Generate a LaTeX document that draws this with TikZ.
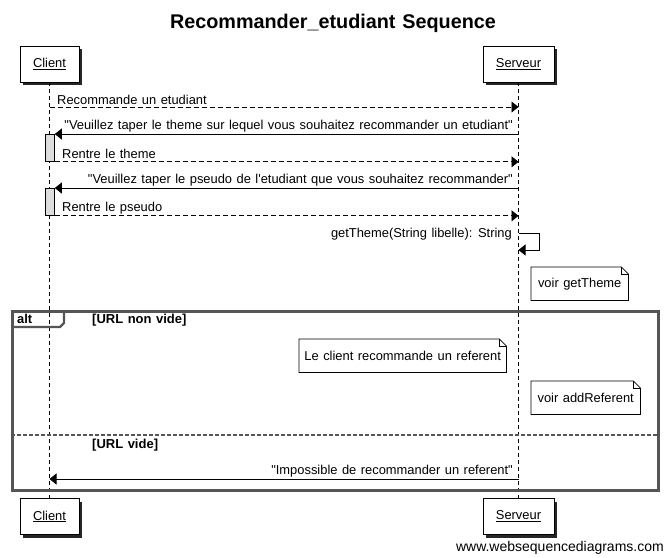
\documentclass[tikz,border=0pt]{standalone}
\usepackage{fontspec}
\setmainfont{Liberation Sans}[WordSpace=1.25]
\usetikzlibrary{arrows.meta,shadows}
\definecolor{framegray}{HTML}{555555}
\definecolor{actgray}{HTML}{DDDDDD}
\newcommand\notefold[1]{%
  \draw[noteline] (#1.north west) -- ([xshift=-7pt]#1.north east) -- ([yshift=-7pt]#1.north east) -- (#1.south east) -- (#1.south west) -- cycle;
  \draw[noteline] ([xshift=-7pt]#1.north east) |- ([yshift=-7pt]#1.north east);}
\newcommand\dq{\textquotedbl}
\begin{document}
\begin{tikzpicture}[x=1pt,y=-1pt,
  txt/.style={font=\fontsize{12.9}{15}\selectfont,inner sep=0pt},
  actor/.style={draw,fill=white,line width=0.8pt,minimum height=36pt,inner sep=0pt,
    font=\fontsize{12.9}{15}\selectfont,
    drop shadow={shadow xshift=3pt,shadow yshift=-3pt,fill=black!85,opacity=1}},
  lifeline/.style={line width=0.8pt,dash pattern=on 4pt off 3pt},
  tip/.style={-{Triangle[length=7pt,width=11pt]}},
  smsg/.style={tip,line width=0.8pt},
  dmsg/.style={tip,line width=0.8pt,dash pattern=on 5pt off 3pt},
  act/.style={draw,fill=actgray,line width=0.8pt,minimum width=9pt,minimum height=27pt,inner sep=0pt},
  note/.style={font=\fontsize{12.9}{15}\selectfont,inner sep=0pt,minimum height=33pt},
  noteline/.style={line width=0.8pt},
  frame/.style={draw=framegray,line width=2.7pt},
  guard/.style={font=\bfseries\fontsize{13}{15}\selectfont,inner sep=0pt,anchor=west}]
\useasboundingbox (0,0) rectangle (666,557);
\node[font=\bfseries\fontsize{19.8}{23}\selectfont] (title) at (333,23) {Recommander\_etudiant Sequence};
% actors
\node[actor,minimum width=59pt] (cltop) at (49.5,64) {\underline{Client}};
\node[actor,minimum width=71pt] (svtop) at (518.5,64) {\underline{Serveur}};
\node[actor,minimum width=59pt] (clbot) at (49.5,516.5) {\underline{Client}};
\node[actor,minimum width=71pt] (svbot) at (518.5,516.5) {\underline{Serveur}};
\draw[lifeline] (cltop.south) -- (clbot.north);
\draw[lifeline] (svtop.south) -- (svbot.north);
% alt frame
\node[frame,anchor=north west,minimum width=646pt,minimum height=179pt,inner sep=0pt] (altframe) at (11,310) {};
\node[font=\bfseries\fontsize{12.9}{15}\selectfont,inner sep=0pt,anchor=west] (altlbl) at (17,318.5) {alt};
\draw[framegray,line width=2.2pt] (altframe.north west |- 0,327) -- (60,327) -- (64,323) -- (64,310);
\draw[framegray,line width=2.2pt,dash pattern=on 4pt off 2pt] (altframe.west |- 0,435) -- (altframe.east |- 0,435);
\node[guard] (g1) at (92,320) {[URL non vide]};
\node[guard] (g2) at (92,445) {[URL vide]};
% activations
\node[act,anchor=north west] (act1) at (45,134) {};
\node[act,anchor=north west] (act2) at (45,188) {};
% messages
\draw[dmsg] (cltop.south |- 0,107) -- (svtop.south |- 0,107);
\node[txt,anchor=west] (l1) at (57,100) {Recommande un etudiant};
\draw[smsg] (svtop.south |- act1.north) -- (act1.north east);
\node[txt,anchor=east] (l2) at (513,126.5) {\dq Veuillez taper le theme sur lequel vous souhaitez recommander un etudiant\dq};
\draw[dmsg] (act1.south east) -- (svtop.south |- act1.south);
\node[txt,anchor=west] (l3) at (62,154) {Rentre le theme};
\draw[smsg] (svtop.south |- act2.north) -- (act2.north east);
\node[txt,anchor=east] (l4) at (513,180.5) {\dq Veuillez taper le pseudo de l\textquotesingle etudiant que vous souhaitez recommander\dq};
\draw[dmsg] (act2.south east) -- (svtop.south |- act2.south);
\node[txt,anchor=west] (l5) at (62,208) {Rentre le pseudo};
\coordinate (selfc) at (539,250);
\draw[smsg] (svtop.south |- 0,233) -| (selfc) -- (svtop.south |- selfc);
\node[txt,anchor=east] (l6) at (512,234) {getTheme(String libelle): String};
% notes
\node[note,anchor=north west,minimum width=97pt] (n1) at (531,267) {voir getTheme};
\notefold{n1}
\node[note,anchor=north west,minimum width=207pt] (n2) at (299,339) {Le client recommande un referent};
\notefold{n2}
\node[note,anchor=north west,minimum width=109pt] (n3) at (531,381) {voir addReferent};
\notefold{n3}
% alt message
\draw[smsg] (svtop.south |- 0,479) -- (cltop.south |- 0,479);
\node[txt,anchor=east] (l7) at (513,471) {\dq Impossible de recommander un referent\dq};
% footer
\node[font=\fontsize{14}{16}\selectfont,inner sep=0pt,anchor=east] (foot) at (664,548) {www.websequencediagrams.com};
\end{tikzpicture}
\end{document}
